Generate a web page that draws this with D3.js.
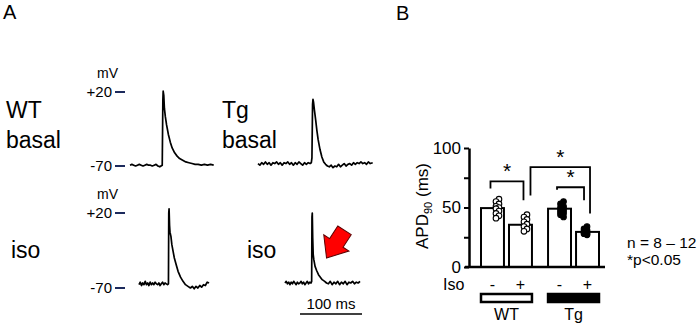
<!DOCTYPE html>
<html>
<head>
<meta charset="utf-8">
<script src="https://cdn.jsdelivr.net/npm/d3@7"></script>
<style>
  body { margin: 0; background: #fff; }
  svg { display: block; font-family: "Liberation Sans", Arial, sans-serif; }
</style>
</head>
<body>
<svg width="700" height="325"></svg>
<script>
// ---- panel A: action potential traces, [ms, mV] ----
const wtBasal = [[0,-69],[3,-68],[6,-69],[9,-70],[12,-69],[15,-68],[18,-69],[21,-70],[24,-69],[27,-68],[30,-69],[33,-69],[36,-70],[39,-69],[42,-68],[45,-70],[48,-71],[50,-70],[52,-69],[53,10],[53.5,21],[54.5,16],[55.5,0],[57,-10],[59,-20],[62,-32],[65,-41],[68,-48],[72,-54],[76,-58],[80,-61],[85,-63],[90,-65],[95,-66],[100,-67],[105,-68],[110,-68],[115,-69],[120,-68],[125,-69],[130,-68],[135,-69]];
const tgBasal = [[0,-67],[3,-69],[6,-66],[9,-68],[12,-65],[15,-68],[18,-66],[21,-69],[24,-66],[27,-67],[30,-65],[33,-68],[36,-66],[39,-69],[42,-66],[45,-67],[48,-65],[51,-68],[54,-66],[57,-69],[60,-66],[63,-68],[66,-65],[69,-67],[72,-69],[75,-66],[78,-68],[81,-66],[84,-67],[86,-66],[87,-60],[88,5],[88.7,11],[89.5,8],[91,-2],[93,-14],[95,-27],[97,-38],[100,-50],[103,-59],[106,-65],[109,-68],[112,-70],[115,-71],[118,-69],[121,-72],[124,-70],[127,-71],[130,-68],[133,-71],[136,-69],[139,-67],[142,-70],[145,-68],[148,-67],[151,-69],[154,-66],[157,-68],[160,-66],[163,-67],[166,-65],[169,-67],[172,-66],[175,-68],[178,-65],[181,-67],[185,-66]];
const wtIso = [[0,-66],[2,-63],[4,-67],[6,-64],[8,-66],[10,-62],[12,-66],[14,-64],[16,-67],[18,-63],[20,-66],[22,-64],[24,-66],[26,-63],[28,-65],[30,-66],[32,-64],[34,-67],[36,-65],[38,-63],[40,-66],[42,-64],[44,-65],[46,-66],[47.5,-65],[48,20],[48.5,25],[49.3,5],[50,-3],[51.5,-8],[53,-18],[55,-26],[57,-34],[60,-42],[63,-50],[67,-57],[71,-62],[75,-66],[79,-68],[83,-70],[86,-68],[89,-71],[92,-68],[95,-70],[98,-67],[101,-69],[104,-66],[107,-67],[110,-63],[113,-64]];
const tgIso = [[0,-64],[2,-62],[4,-65],[6,-63],[8,-66],[10,-63],[12,-65],[14,-62],[16,-64],[18,-66],[20,-63],[22,-65],[24,-64],[26,-62],[28,-65],[30,-63],[32,-66],[34,-64],[36,-62],[38,-65],[40,-63],[42,-64],[43,-62],[43.5,15],[44,20],[44.7,-10],[45.5,-30],[46.5,-36],[48.5,-44],[51,-49],[54,-54],[57,-57],[60,-60],[64,-62],[67,-64],[70,-65],[73,-62],[76,-66],[79,-63],[82,-65],[85,-62],[88,-66],[91,-63],[94,-65],[97,-62],[100,-66],[103,-63],[106,-64],[109,-62],[112,-65],[115,-63],[118,-64],[121,-62]];
const mvTicks = [20, -70];

// ---- panel B: APD90 ----
const groups = ['WT', 'Tg'];
const isoLevels = ['-', '+'];
const apdMeans = [49.5, 35.5, 49, 29.5];          // WT-, WT+, Tg-, Tg+
const apdPoints = [
  [57, 55, 53, 51, 50, 49, 47, 45, 43, 41],
  [44, 42, 40, 38, 36, 34, 32, 30],
  [55, 53, 51, 50, 49, 48, 47, 46, 45, 44, 42],
  [34, 32, 31, 30, 29.5, 29, 28, 28, 27]
];
const yTicks = [0, 25, 50, 75, 100];
// brackets: [from bar, to bar, top, left leg end, right leg end]
const brackets = [
  [0, 1, 72, 66, 56],
  [1, 3, 84, 60, 45],
  [2, 3, 67, 65, 56]
];

(function (d3) {
  const svg = d3.select('svg');

  svg.append('text').attr('x', 3).attr('y', 19).style('font-size', '20px').text('A');
  svg.append('text').attr('x', 396).attr('y', 20).style('font-size', '20px').text('B');

  // ---------- panel A ----------
  const tScale = d3.scaleLinear().domain([0, 100]).range([0, 62]);
  const rows = [
    d3.scaleLinear().domain([-70, 20]).range([166, 92]),
    d3.scaleLinear().domain([-70, 20]).range([288, 213])
  ];

  rows.forEach((y, r) => {
    svg.append('text')
      .attr('x', 97).attr('y', y(20) - 14)
      .style('font-size', '14px')
      .text('mV');
    mvTicks.forEach(v => {
      svg.append('text')
        .attr('x', 112).attr('y', y(v) + 5)
        .attr('text-anchor', 'end')
        .style('font-size', '15px')
        .text(v > 0 ? '+' + v : '-' + Math.abs(v));
      svg.append('line')
        .attr('x1', 115).attr('x2', 125)
        .attr('y1', y(v)).attr('y2', y(v))
        .attr('stroke', '#1c2a5c').attr('stroke-width', 2);
    });
  });

  const labels = [
    { x: 6, lines: ['WT', 'basal'], y: 118 },
    { x: 222, lines: ['Tg', 'basal'], y: 118 },
    { x: 11, lines: ['iso'], y: 258 },
    { x: 247, lines: ['iso'], y: 258 }
  ];
  labels.forEach(l => {
    l.lines.forEach((s, i) => {
      svg.append('text')
        .attr('x', l.x).attr('y', l.y + i * 30)
        .style('font-size', '23px')
        .text(s);
    });
  });

  const traces = [
    { data: wtBasal, x0: 130, row: 0 },
    { data: tgBasal, x0: 258, row: 0 },
    { data: wtIso, x0: 139, row: 1 },
    { data: tgIso, x0: 285, row: 1 }
  ];
  traces.forEach(tr => {
    const y = rows[tr.row];
    const line = d3.line()
      .x(d => tr.x0 + tScale(d[0]))
      .y(d => y(d[1]));
    svg.append('path')
      .datum(tr.data)
      .attr('d', line)
      .attr('fill', 'none')
      .attr('stroke', '#000')
      .attr('stroke-width', 1.7)
      .attr('stroke-linejoin', 'round');
  });

  // red arrow pointing at the Tg iso repolarisation
  const tip = [285 + tScale(67), rows[1](-34)];
  svg.append('path')
    .attr('d', 'M0,0 L-18,-15 L-18,-8 L-33,-8 L-33,8 L-18,8 L-18,15 Z')
    .attr('transform', `translate(${tip[0]},${tip[1]}) rotate(123)`)
    .attr('fill', '#ff0000')
    .attr('stroke', '#5a0000')
    .attr('stroke-width', 1)
    .attr('stroke-linejoin', 'miter');

  // scale bar
  svg.append('line')
    .attr('x1', 300).attr('x2', 300 + tScale(100))
    .attr('y1', 314).attr('y2', 314)
    .attr('stroke', '#000').attr('stroke-width', 1.5);
  svg.append('text')
    .attr('x', 300 + tScale(50)).attr('y', 309)
    .attr('text-anchor', 'middle')
    .style('font-size', '15px')
    .text('100 ms');

  // ---------- panel B ----------
  const yScale = d3.scaleLinear().domain([0, 100]).range([267, 148]);
  const x0 = d3.scaleBand().domain(groups).range([481, 599]).paddingInner(0.24);
  const x1 = d3.scaleBand().domain(isoLevels).range([0, x0.bandwidth()]).paddingInner(0.18);
  const bars = [];
  groups.forEach(g => isoLevels.forEach(s => bars.push({ g, s })));
  bars.forEach((b, i) => {
    b.x = x0(b.g) + x1(b.s);
    b.cx = b.x + x1.bandwidth() / 2;
    b.mean = apdMeans[i];
    b.pts = apdPoints[i];
    b.filled = b.g === 'Tg';
  });

  const yAxis = d3.axisLeft(yScale)
    .tickValues(yTicks)
    .tickSize(5)
    .tickSizeOuter(0)
    .tickPadding(3)
    .tickFormat(d => d % 50 === 0 ? d : '');
  const yAxisG = svg.append('g')
    .attr('transform', 'translate(469,0)')
    .call(yAxis)
    .attr('font-size', null)
    .attr('font-family', null);
  yAxisG.select('.domain').attr('stroke-width', 2.5);
  yAxisG.selectAll('.tick line').attr('stroke-width', 2);
  yAxisG.selectAll('.tick text')
    .attr('fill', '#000')
    .style('font-size', '17px');

  const yLabel = svg.append('text')
    .attr('transform', 'translate(428,206) rotate(-90)')
    .attr('text-anchor', 'middle')
    .style('font-size', '17px');
  yLabel.append('tspan').text('APD');
  yLabel.append('tspan').attr('dy', 4).style('font-size', '11px').text('90');
  yLabel.append('tspan').attr('dy', -4).text(' (ms)');

  svg.selectAll('rect.bar').data(bars)
    .enter().append('rect')
      .attr('class', 'bar')
      .attr('x', d => d.x)
      .attr('y', d => yScale(d.mean))
      .attr('width', x1.bandwidth())
      .attr('height', d => yScale(0) - yScale(d.mean))
      .attr('fill', '#fff')
      .attr('stroke', '#000')
      .attr('stroke-width', 2);

  bars.forEach((b, i) => {
    const shift = [5, 5, 2.5, -2][i];
    svg.selectAll(null).data(b.pts)
      .enter().append('circle')
        .attr('cx', (d, j) => b.cx + shift + (j % 2 ? -1.5 : 1.5))
        .attr('cy', d => yScale(d))
        .attr('r', 2.8)
        .attr('fill', b.filled ? '#000' : '#fff')
        .attr('stroke', '#000')
        .attr('stroke-width', 1.1);
  });

  // x axis line
  svg.append('line')
    .attr('x1', 465).attr('x2', 605)
    .attr('y1', yScale(0)).attr('y2', yScale(0))
    .attr('stroke', '#000').attr('stroke-width', 2.5);

  // significance brackets
  const legOffset = [[-2, 3], [10, 2.5], [-2.5, -3.5]];
  brackets.forEach((br, k) => {
    const [a, b, top, l, r] = br;
    const xa = bars[a].cx + legOffset[k][0];
    const xb = bars[b].cx + legOffset[k][1];
    svg.append('path')
      .attr('d', `M${xa},${yScale(l)} V${yScale(top)} H${xb} V${yScale(r)}`)
      .attr('fill', 'none')
      .attr('stroke', '#000')
      .attr('stroke-width', 1.8);
    svg.append('text')
      .attr('x', (xa + xb) / 2).attr('y', yScale(top) - 3)
      .attr('text-anchor', 'middle')
      .style('font-size', '21px')
      .text('*');
  });

  // Iso +/- row and genotype boxes
  svg.append('text').attr('x', 443).attr('y', 290).style('font-size', '16px').text('Iso');
  bars.forEach(b => {
    svg.append('text')
      .attr('x', b.cx).attr('y', 290)
      .attr('text-anchor', 'middle')
      .style('font-size', '16px')
      .text(b.s);
  });
  groups.forEach(g => {
    svg.append('rect')
      .attr('x', x0(g)).attr('y', 294)
      .attr('width', x0.bandwidth()).attr('height', 8)
      .attr('fill', g === 'Tg' ? '#000' : '#fff')
      .attr('stroke', '#000')
      .attr('stroke-width', 2.5);
    svg.append('text')
      .attr('x', x0(g) + x0.bandwidth() / 2).attr('y', 320)
      .attr('text-anchor', 'middle')
      .style('font-size', '16px')
      .text(g);
  });

  svg.append('text').attr('x', 627).attr('y', 248).style('font-size', '15.5px').text('n = 8 \u2013 12');
  svg.append('text').attr('x', 627).attr('y', 265).style('font-size', '15.5px').text('*p<0.05');
}(d3));
</script>
</body>
</html>
